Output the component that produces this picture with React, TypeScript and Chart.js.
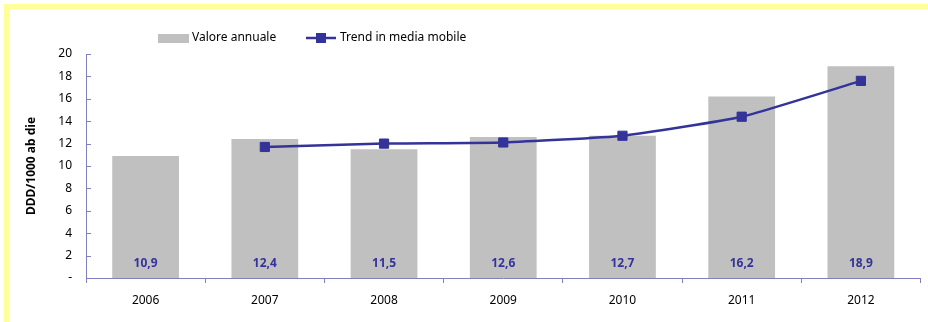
import React, { useEffect, useRef } from "react";
import { Chart, registerables } from "chart.js";

Chart.register(...registerables);

const years = ["2006", "2007", "2008", "2009", "2010", "2011", "2012"];
const annualValues = [10.9, 12.4, 11.5, 12.6, 12.7, 16.2, 18.9];
const trendValues: (number | null)[] = [null, 11.7, 12.0, 12.1, 12.7, 14.4, 17.6];
const barLabels = ["10,9", "12,4", "11,5", "12,6", "12,7", "16,2", "18,9"];
const yTickValues = [0, 2, 4, 6, 8, 10, 12, 14, 16, 18, 20];
const yAxisTitle = "DDD/1000 ab die";
const legendBar = "Valore annuale";
const legendLine = "Trend in media mobile";

const FONT = "'Noto Sans', sans-serif";
const BLUE = "#333399";
const AXIS = "#8080C0";
const GRAY = "#C0C0C0";

const decorPlugin = {
  id: "decor",
  afterDatasetsDraw(chart: any) {
    const ctx = chart.ctx as CanvasRenderingContext2D;
    const x = chart.scales.x;
    const y = chart.scales.y;
    ctx.save();
    // y ticks pointing inward
    ctx.strokeStyle = AXIS;
    ctx.lineWidth = 1;
    yTickValues.forEach((v) => {
      const py = Math.round(y.getPixelForValue(v)) + 0.5;
      ctx.beginPath();
      ctx.moveTo(chart.chartArea.left, py);
      ctx.lineTo(chart.chartArea.left + 5, py);
      ctx.stroke();
    });
    // bar value labels
    ctx.fillStyle = BLUE;
    ctx.font = `bold 12px ${FONT}`;
    ctx.textAlign = "center";
    ctx.textBaseline = "middle";
    barLabels.forEach((t, i) => {
      ctx.fillText(t, x.getPixelForValue(i), y.getPixelForValue(0) - 14);
    });
    // y axis title
    ctx.save();
    ctx.translate(32, (chart.chartArea.top + chart.chartArea.bottom) / 2);
    ctx.rotate(-Math.PI / 2);
    ctx.fillStyle = "#000";
    ctx.font = `bold 12px ${FONT}`;
    ctx.fillText(yAxisTitle, 0, 0);
    ctx.restore();
    // legend
    const ly = 38;
    ctx.fillStyle = GRAY;
    ctx.fillRect(158, ly - 4, 31, 9);
    ctx.fillStyle = "#000";
    ctx.font = `12px ${FONT}`;
    ctx.textAlign = "left";
    ctx.fillText(legendBar, 192, ly);
    ctx.strokeStyle = BLUE;
    ctx.lineWidth = 2.5;
    ctx.beginPath();
    ctx.moveTo(306, ly);
    ctx.lineTo(336, ly);
    ctx.stroke();
    ctx.fillStyle = BLUE;
    ctx.fillRect(316, ly - 5, 10, 10);
    ctx.fillStyle = "#000";
    ctx.fillText(legendLine, 340, ly);
    ctx.restore();
  },
};

export default function App() {
  const ref = useRef<HTMLCanvasElement>(null);
  useEffect(() => {
    if (!ref.current) return;
    const chart = new Chart(ref.current, {
      type: "bar",
      data: {
        labels: years,
        datasets: [
          {
            type: "line",
            label: legendLine,
            data: trendValues,
            borderColor: BLUE,
            backgroundColor: BLUE,
            borderWidth: 2.5,
            pointStyle: "rect",
            pointRadius: 6.5,
            pointBorderWidth: 1,
            pointBackgroundColor: BLUE,
            pointBorderColor: BLUE,
            tension: 0.15,
            order: 0,
          } as any,
          {
            type: "bar",
            label: legendBar,
            data: annualValues,
            backgroundColor: GRAY,
            borderWidth: 0,
            categoryPercentage: 1,
            barPercentage: 0.56,
            order: 1,
          },
        ],
      },
      options: {
        animation: false,
        responsive: false,
        maintainAspectRatio: false,
        layout: { padding: { top: 54, right: 6, bottom: 0, left: 0 } },
        plugins: { legend: { display: false }, tooltip: { enabled: false } },
        scales: {
          x: {
            offset: true,
            grid: {
              offset: true,
              drawOnChartArea: false,
              tickLength: 5,
              color: AXIS,
            },
            border: { display: true, color: AXIS, width: 1 },
            ticks: { color: "#000", font: { family: FONT, size: 12 }, padding: 10 },
            afterFit: (s: any) => {
              s.height = 44;
            },
          },
          y: {
            min: 0,
            max: 20,
            grid: { display: false, drawTicks: false },
            border: { display: true, color: AXIS, width: 1 },
            ticks: {
              stepSize: 2,
              color: "#000",
              padding: 14,
              font: { family: FONT, size: 12 },
              callback: (v: any) => (v === 0 ? "-" : String(v)),
            },
            afterFit: (s: any) => {
              s.width = 86;
            },
          },
        },
      },
      plugins: [decorPlugin],
    });
    return () => chart.destroy();
  }, []);
  return (
    <div
      style={{
        position: "fixed",
        left: 0,
        top: 0,
        width: 928,
        height: 322,
        overflow: "hidden",
        background: "#fff",
      }}
    >
      <div
        style={{
          position: "absolute",
          left: 4,
          top: 4,
          width: 1000,
          height: 400,
          borderTop: "5px solid #FFFF99",
          borderLeft: "5px solid #FFFF99",
        }}
      />
      <canvas
        ref={ref}
        width={928}
        height={322}
        style={{ position: "absolute", left: 0, top: 0, width: 928, height: 322 }}
      />
    </div>
  );
}
